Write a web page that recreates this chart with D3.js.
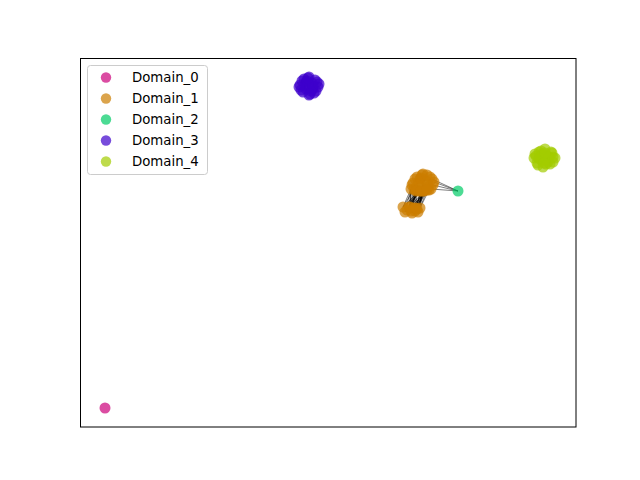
<!DOCTYPE html>
<html><head><meta charset="utf-8">
<script src="https://cdn.jsdelivr.net/npm/d3@7"></script>
<style>body{margin:0;background:#fff}</style>
</head><body>
<script>
const domains = ["Domain_0","Domain_1","Domain_2","Domain_3","Domain_4"];
const colors = ["#cc007a","#cc7d00","#00cc66","#3d00cc","#a3cc00"];

const d0x = [25];
const d0y = [19];
const d1x = [343,333,353,336,350,337,349,343,343,340,346,340,348,352,334,335,351,345,341,338,348,354,332,344,342,347,339,
             323,327,331,335,338,329,334,325,332,337,
             331,336,341,347, 330,336,340];
const d1y = [243,244,242,237,250,250,237,253,236,240,246,248,240,248,238,248,238,237,249,243,243,245,242,236,252,252,236,
             220,217,216,216,215,220,219,215,214,218,
             238,236,236,237, 220,219,219];
const d2x = [378];
const d2y = [236];
const d3x = [229,220,238,223,235,224,234,229,229,226,232,226,233,237,221,222,236,231,227,225,233,239,219,230,228];
const d3y = [341,342,340,335,347,348,334,350,332,338,344,345,338,345,337,346,336,336,346,341,341,343,340,333,349];
const d4x = [464,454,473,458,471,459,470,465,463,461,467,462,468,473,455,457,472,466,461,459,469,475,456,464,465];
const d4y = [269,269,270,262,275,275,263,278,260,267,271,273,265,265,273,264,274,263,276,269,270,269,271,264,274];

// edges: [domainA, indexA, domainB, indexB]
const edges = [
 [1,2,2,0],[1,21,2,0],[1,13,2,0],[1,16,2,0],
 [1,8,1,27],[1,8,1,29],[1,8,1,31],[1,23,1,28],[1,23,1,30],[1,23,1,33],[1,26,1,27],[1,26,1,32],
 [1,26,1,34],[1,3,1,29],[1,3,1,35],[1,17,1,30],[1,17,1,36],[1,14,1,27],[1,14,1,33],[1,6,1,31],
 [1,6,1,34],[1,8,1,35],[1,23,1,36],[1,26,1,28],[1,3,1,32],[1,17,1,33],
 [1,37,1,41],[1,37,1,27],[1,37,1,32],[1,38,1,42],[1,38,1,41],[1,38,1,29],[1,39,1,43],[1,39,1,42],
 [1,39,1,30],[1,40,1,43],[1,40,1,36],[1,40,1,42],[1,22,1,41],[1,22,1,34],[1,14,1,41],[1,3,1,42],
 [1,8,1,43],[1,23,1,42],[1,26,1,41]
];

const xs = [d0x,d1x,d2x,d3x,d4x];
const ys = [d0y,d1y,d2y,d3y,d4y];

const W = 640, H = 480;
const m = {l:80, r:64, t:58, b:53};
const svg = d3.select("body").append("svg").attr("width",W).attr("height",H);
const x = d3.scaleLinear().domain([0,496]).range([m.l, W-m.r]);
const y = d3.scaleLinear().domain([0,369]).range([H-m.b, m.t]);

const g = svg.append("g");
g.selectAll("line.edge").data(edges).enter().append("line")
  .attr("x1", e => x(xs[e[0]][e[1]])).attr("y1", e => y(ys[e[0]][e[1]]))
  .attr("x2", e => x(xs[e[2]][e[3]])).attr("y2", e => y(ys[e[2]][e[3]]))
  .attr("stroke","#000").attr("stroke-opacity",0.5).attr("stroke-width",1);

domains.forEach((d,i) => {
  const pts = xs[i].map((v,j) => [v, ys[i][j]]);
  g.selectAll("circle.d"+i).data(pts).enter().append("circle")
    .attr("cx", p => x(p[0])).attr("cy", p => y(p[1])).attr("r", 5.5)
    .attr("fill", colors[i]).attr("fill-opacity", 0.7);
});

// axes frame (no ticks)
svg.append("rect").attr("x", m.l+0.5).attr("y", m.t+0.5)
  .attr("width", W-m.l-m.r-0.5).attr("height", H-m.t-m.b-0.5)
  .attr("fill","none").attr("stroke","#000").attr("stroke-width",1);

// legend
const lg = svg.append("g").attr("transform","translate(87,65)");
lg.append("rect").attr("x",0.5).attr("y",0.5).attr("width",120).attr("height",109)
  .attr("rx",3).attr("fill","#fff").attr("fill-opacity",0.8).attr("stroke","#cccccc");
domains.forEach((d,i) => {
  const yy = 12.5 + i*21;
  lg.append("circle").attr("cx",19).attr("cy",yy).attr("r",5.2)
    .attr("fill",colors[i]).attr("fill-opacity",0.7);
  lg.append("text").attr("x",45).attr("y",yy).attr("dy","0.36em")
    .attr("font-family","DejaVu Sans").attr("font-size","13.3px").attr("fill","#000").text(d);
});
</script>
</body></html>
